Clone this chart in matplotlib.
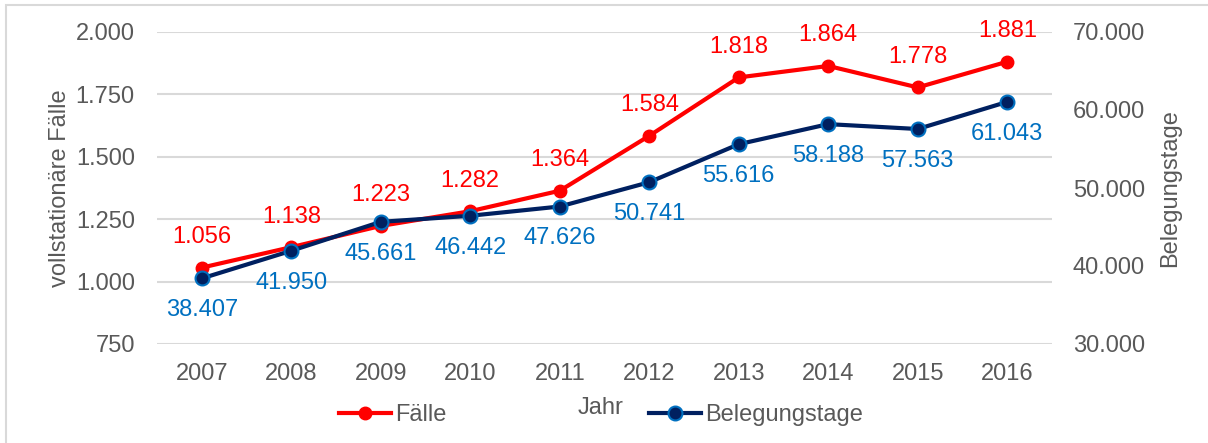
import matplotlib
matplotlib.use("Agg")
import matplotlib.pyplot as plt
from matplotlib.patches import Rectangle
from matplotlib.ticker import FuncFormatter

years = ["2007", "2008", "2009", "2010", "2011", "2012", "2013", "2014", "2015", "2016"]
faelle = [1056, 1138, 1223, 1282, 1364, 1584, 1818, 1864, 1778, 1881]
belegungstage = [38407, 41950, 45661, 46442, 47626, 50741, 55616, 58188, 57563, 61043]

plt.rcParams['font.family'] = ['Liberation Sans', 'DejaVu Sans']
GRAY = '#595959'
RED = '#FF0000'
NAVY = '#002060'
BLUE = '#0070C0'
FS = 17

def de_fmt(v, pos=None):
    return f"{int(round(v)):,}".replace(",", ".")

W, H = 1208, 443
fig = plt.figure(figsize=(W/100, H/100), dpi=100)
ax = fig.add_axes([157/W, (H-344)/H, (1052-157)/W, (344-32)/H])
ax2 = ax.twinx()

x = list(range(len(years)))
ax.set_xlim(-0.5, len(years)-0.5)
ax.set_ylim(750, 2000)
ax.set_yticks([750, 1000, 1250, 1500, 1750, 2000])
ax2.set_ylim(30000, 70000)
ax2.set_yticks([30000, 40000, 50000, 60000, 70000])
ax.yaxis.set_major_formatter(FuncFormatter(de_fmt))
ax2.yaxis.set_major_formatter(FuncFormatter(de_fmt))
ax.set_xticks(x)
ax.set_xticklabels(years)

ax.grid(axis='y', color='#D9D9D9', linewidth=1.5)
ax.set_axisbelow(True)
for a in (ax, ax2):
    for s in a.spines.values():
        s.set_visible(False)
    a.tick_params(length=0, labelsize=FS, labelcolor=GRAY)
ax.tick_params(axis='y', pad=16)
ax.tick_params(axis='x', pad=14)
ax2.tick_params(axis='y', pad=15)

ax.set_ylabel("vollstationäre Fälle", fontsize=FS, color=GRAY, labelpad=3)
ax2.set_ylabel("Belegungstage", fontsize=FS, color=GRAY, labelpad=10)

l1, = ax.plot(x, faelle, color=RED, lw=3, marker='o', ms=9, mfc=RED, mec=RED, zorder=3, label="Fälle")
l2, = ax2.plot(x, belegungstage, color=NAVY, lw=3, marker='o', ms=10, mfc=NAVY, mec=BLUE, mew=1.5, zorder=3, label="Belegungstage")

for xi, v in zip(x, faelle):
    ax.annotate(de_fmt(v), (xi, v), xytext=(0, 22), textcoords='offset points',
                ha='center', va='center', color=RED, fontsize=FS)
for xi, v in zip(x, belegungstage):
    ax2.annotate(de_fmt(v), (xi, v), xytext=(0, -23), textcoords='offset points',
                 ha='center', va='center', color=BLUE, fontsize=FS)

fig.text(601/W, 1-408/H, "Jahr", ha='center', va='center', fontsize=FS, color=GRAY)
fig.legend([l1, l2], ["Fälle", "Belegungstage"], loc='center', bbox_to_anchor=(601/W, 1-415/H),
           ncol=2, frameon=False, fontsize=FS, labelcolor=GRAY, handlelength=2.2,
           handletextpad=0.15, columnspacing=8.6)

fig.patches.append(Rectangle((6/W, -0.1), 2, 1.1 - 5/H, transform=fig.transFigure,
                             fill=False, edgecolor='#D9D9D9', lw=1.5))

fig.savefig("out.png", dpi=100)
